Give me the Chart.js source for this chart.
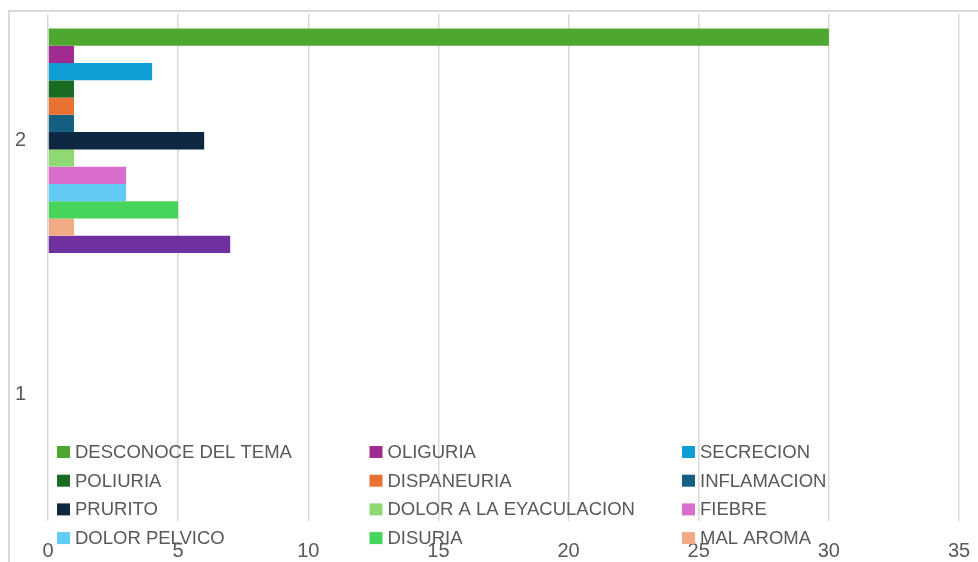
<!DOCTYPE html>
<html>
<head>
<meta charset="utf-8">
<script src="https://cdn.jsdelivr.net/npm/chart.js@4"></script>
<style>
    html, body { margin: 0; padding: 0; background: #fff; }
</style>
</head>
<body>
<canvas id="myChart" width="978" height="562"></canvas>
<script>
// datos
let categorias = ["1", "2"];
let sintomas = ["DESCONOCE DEL TEMA", "OLIGURIA", "SECRECION", "POLIURIA", "DISPANEURIA", "INFLAMACION",
    "PRURITO", "DOLOR A LA EYACULACION", "FIEBRE", "DOLOR PELVICO", "DISURIA", "MAL AROMA", "OTRO"];
let valoresCat1 = [null, null, null, null, null, null, null, null, null, null, null, null, null];
let valoresCat2 = [30, 1, 4, 1, 1, 1, 6, 1, 3, 3, 5, 1, 7];
let colores = ["#4EA72E", "#A02B93", "#0F9ED5", "#196B24", "#E97132", "#156082",
    "#0E2841", "#8ED973", "#D86DCD", "#61CBF4", "#47D45A", "#F2AA84", "#7030A0"];
let ticksX = [0, 5, 10, 15, 20, 25, 30, 35];

let gris = "#595959";
let fuente = '"Liberation Sans", Arial, sans-serif';

let datasets = [];
for (let i = 0; i < sintomas.length; i++) {
    datasets.push({
        label: sintomas[i],
        data: [valoresCat1[i], valoresCat2[i]],
        backgroundColor: colores[i],
        borderWidth: 0,
        barPercentage: 1,
        categoryPercentage: 0.885
    });
}

// marco del grafico (borde gris de Excel)
const marco = {
    id: "marco",
    beforeDraw(chart) {
        let ctx = chart.ctx;
        ctx.save();
        ctx.strokeStyle = "#D9D9D9";
        ctx.lineWidth = 2;
        ctx.beginPath();
        ctx.moveTo(9, 562);
        ctx.lineTo(9, 11);
        ctx.lineTo(978, 11);
        ctx.stroke();
        ctx.restore();
    }
};

// leyenda encima del area del grafico, 3 columnas (se ven 12 de 13)
const leyenda = {
    id: "leyenda",
    afterDraw(chart) {
        let ctx = chart.ctx;
        ctx.save();
        ctx.font = "18.5px " + fuente;
        ctx.textBaseline = "middle";
        chart.data.datasets.forEach((ds, i) => {
            if (i >= 12) return;
            let col = i % 3;
            let fila = Math.floor(i / 3);
            let x = 57 + col * 312.5;
            let y = 452 + fila * 28.7;
            ctx.fillStyle = ds.backgroundColor;
            ctx.fillRect(x, y - 6, 13, 12);
            ctx.fillStyle = gris;
            ctx.fillText(ds.label, x + 18, y + 1);
        });
        ctx.restore();
    }
};

new Chart("myChart", {
    type: "bar",
    data: {
        labels: categorias,
        datasets: datasets
    },
    options: {
        responsive: false,
        animation: false,
        indexAxis: "y",
        layout: { padding: { top: 14, right: 19, left: 0, bottom: 0 } },
        plugins: {
            legend: { display: false },
            tooltip: { enabled: false }
        },
        scales: {
            x: {
                min: 0,
                max: 35,
                afterBuildTicks: (s) => { s.ticks = ticksX.map(v => ({ value: v })); },
                ticks: { color: gris, font: { size: 20, family: fuente }, padding: 18 },
                grid: { color: "#D9D9D9", lineWidth: 1.5, drawTicks: false },
                border: { display: false },
                afterFit: (s) => { s.paddingLeft = 0; s.paddingRight = 0; s.height = 41; }
            },
            y: {
                reverse: true,
                grid: { display: false, drawTicks: false },
                border: { display: false },
                ticks: { color: gris, font: { size: 20, family: fuente }, padding: 22 },
                afterFit: (s) => { s.width = 48; s.paddingTop = 0; s.paddingBottom = 0; }
            }
        }
    },
    plugins: [marco, leyenda]
});
</script>
</body>
</html>
